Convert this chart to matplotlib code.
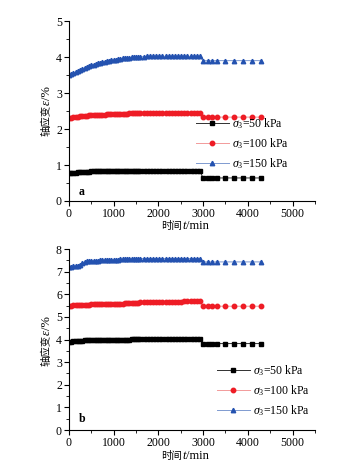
import matplotlib.pyplot as plt
from matplotlib.ticker import MultipleLocator

plt.rcParams['font.family'] = ['Liberation Serif', 'Noto Sans CJK SC']
plt.rcParams['mathtext.fontset'] = 'custom'
plt.rcParams['mathtext.rm'] = 'Liberation Serif'
plt.rcParams['mathtext.it'] = 'Liberation Serif:italic'

# time stamps (min), shared by all curves
t_min = [0, 50, 100, 150, 200, 250, 300, 350, 400, 450,
         500, 550, 600, 650, 700, 750, 800, 850, 900, 950,
         1000, 1050, 1100, 1150, 1200, 1250, 1300, 1350, 1400, 1450,
         1500, 1550,
         1600, 1670, 1740, 1810, 1880, 1950, 2020, 2090, 2160, 2230,
         2300, 2370, 2440, 2510, 2580, 2650, 2720, 2790, 2860, 2920,
         3000, 3100, 3200, 3300, 3500, 3700, 3900, 4100, 4300]

# panel a: axial strain (%)
a_50 = [0.77, 0.78, 0.79, 0.79, 0.80, 0.80, 0.81, 0.81, 0.81, 0.81,
        0.82, 0.82, 0.82, 0.82, 0.82, 0.82, 0.83, 0.83, 0.83, 0.83,
        0.83, 0.83, 0.83, 0.83, 0.83, 0.83, 0.83, 0.84, 0.84, 0.84,
        0.84, 0.84,
        0.84, 0.84, 0.84, 0.84, 0.84, 0.84, 0.84, 0.84, 0.84, 0.84,
        0.84, 0.84, 0.84, 0.84, 0.84, 0.84, 0.84, 0.84, 0.84, 0.84,
        0.64, 0.64, 0.64, 0.64, 0.64, 0.64, 0.64, 0.64, 0.64]
a_100 = [2.30, 2.31, 2.32, 2.33, 2.34, 2.35, 2.36, 2.37, 2.37, 2.38,
         2.38, 2.39, 2.39, 2.39, 2.40, 2.40, 2.40, 2.41, 2.41, 2.41,
         2.42, 2.42, 2.42, 2.43, 2.43, 2.43, 2.43, 2.44, 2.44, 2.44,
         2.44, 2.44,
         2.45, 2.45, 2.45, 2.45, 2.45, 2.45, 2.45, 2.45, 2.45, 2.45,
         2.45, 2.45, 2.45, 2.45, 2.45, 2.45, 2.45, 2.45, 2.45, 2.45,
         2.33, 2.33, 2.33, 2.33, 2.33, 2.33, 2.33, 2.33, 2.33]
a_150 = [3.50, 3.53, 3.55, 3.58, 3.61, 3.64, 3.67, 3.70, 3.72, 3.75,
         3.77, 3.79, 3.80, 3.82, 3.84, 3.86, 3.87, 3.89, 3.90, 3.91,
         3.92, 3.93, 3.94, 3.95, 3.96, 3.97, 3.98, 3.98, 3.99, 3.99,
         4.00, 4.00,
         4.01, 4.01, 4.02, 4.02, 4.02, 4.02, 4.02, 4.02, 4.02, 4.02,
         4.02, 4.02, 4.02, 4.02, 4.02, 4.02, 4.02, 4.02, 4.02, 4.02,
         3.90, 3.90, 3.90, 3.90, 3.90, 3.90, 3.90, 3.90, 3.90]

# panel b: axial strain (%)
b_50 = [3.90, 3.91, 3.92, 3.93, 3.94, 3.95, 3.95, 3.96, 3.96, 3.96,
        3.97, 3.97, 3.97, 3.97, 3.98, 3.98, 3.98, 3.98, 3.98, 3.99,
        3.99, 3.99, 3.99, 3.99, 4.00, 4.00, 4.00, 4.00, 4.01, 4.01,
        4.01, 4.01,
        4.02, 4.02, 4.02, 4.02, 4.02, 4.02, 4.02, 4.02, 4.02, 4.02,
        4.02, 4.02, 4.02, 4.02, 4.02, 4.02, 4.02, 4.02, 4.02, 4.02,
        3.82, 3.82, 3.82, 3.82, 3.82, 3.82, 3.82, 3.82, 3.82]
b_100 = [5.50, 5.50, 5.51, 5.51, 5.52, 5.52, 5.53, 5.53, 5.54, 5.54,
         5.55, 5.55, 5.55, 5.56, 5.56, 5.56, 5.57, 5.57, 5.57, 5.58,
         5.58, 5.58, 5.59, 5.59, 5.59, 5.60, 5.60, 5.60, 5.61, 5.61,
         5.62, 5.62,
         5.64, 5.64, 5.65, 5.65, 5.65, 5.66, 5.66, 5.66, 5.66, 5.67,
         5.67, 5.67, 5.67, 5.67, 5.68, 5.68, 5.68, 5.68, 5.68, 5.68,
         5.47, 5.47, 5.47, 5.47, 5.47, 5.47, 5.47, 5.47, 5.47]
b_150 = [7.20, 7.21, 7.23, 7.25, 7.27, 7.30, 7.36, 7.42, 7.45, 7.46,
         7.47, 7.48, 7.49, 7.49, 7.50, 7.50, 7.51, 7.51, 7.52, 7.52,
         7.52, 7.53, 7.53, 7.54, 7.54, 7.55, 7.55, 7.55, 7.56, 7.56,
         7.57, 7.57,
         7.58, 7.58, 7.58, 7.58, 7.58, 7.58, 7.58, 7.58, 7.58, 7.58,
         7.58, 7.58, 7.58, 7.58, 7.58, 7.58, 7.58, 7.58, 7.58, 7.58,
         7.43, 7.43, 7.43, 7.43, 7.43, 7.43, 7.43, 7.43, 7.43]

labels = [r'$\sigma_3$=50 kPa', r'$\sigma_3$=100 kPa', r'$\sigma_3$=150 kPa']
styles = [
    dict(marker='s', color='#303030', mfc='#000000', mec='#000000'),
    dict(marker='o', color='#f29a9a', mfc='#ee1c25', mec='#ee1c25'),
    dict(marker='^', color='#7f9ad0', mfc='#2452b0', mec='#2452b0'),
]

# axis titles are built from pieces so the Chinese part and the
# italic symbol each get their own font
CJK = dict(family='Noto Sans CJK SC', size=7.5)
LAT = dict(family='Liberation Serif', size=9)
LAT_IT = dict(family='Liberation Serif', size=9, style='italic')
x_title = [('时间', CJK), ('t', LAT_IT), ('/min', LAT)]
y_title = [('轴应变', CJK), ('ε', LAT_IT), ('/%', LAT)]

W, H = 348, 467
fig = plt.figure(figsize=(W / 100, H / 100), dpi=100)
ax_a = fig.add_axes([0.198, 0.5696, 0.707, 0.3854])
ax_b = fig.add_axes([0.198, 0.0792, 0.707, 0.3876])
renderer = fig.canvas.get_renderer()


def pieced_title(pieces, cx, cy, rotation):
    # cx, cy in pixels from top-left; text runs left-to-right or bottom-to-top
    arts = [fig.text(0, 0, s, rotation=rotation, rotation_mode='anchor',
                     ha='left', va='baseline', **p) for s, p in pieces]
    sizes = []
    for t in arts:
        bb = t.get_window_extent(renderer)
        sizes.append(bb.width if rotation == 0 else bb.height)
    pos = -sum(sizes) / 2
    for t, s in zip(arts, sizes):
        if rotation == 0:
            t.set_position(((cx + pos) / W, (H - cy) / H))
        else:
            t.set_position((cx / W, (H - cy + pos) / H))
        pos += s


def draw_panel(ax, series, ymax, tag, tag_y, leg_anchor):
    for y, lab, st in zip(series, labels, styles):
        ax.plot(t_min, y, lw=0.7, ms=3.2, label=lab, **st)
    ax.set_xlim(0, 5500)
    ax.set_ylim(0, ymax)
    ax.xaxis.set_major_locator(MultipleLocator(1000))
    ax.xaxis.set_minor_locator(MultipleLocator(500))
    ax.yaxis.set_major_locator(MultipleLocator(1))
    ax.yaxis.set_minor_locator(MultipleLocator(0.5))
    ax.spines['top'].set_visible(False)
    ax.spines['right'].set_visible(False)
    for s in ('left', 'bottom'):
        ax.spines[s].set_linewidth(0.8)
    ax.tick_params(which='major', direction='out', length=3.5, width=0.8, labelsize=8.5, pad=1.5)
    ax.tick_params(which='minor', direction='out', length=2, width=0.6)
    ax.text(220, tag_y, tag, fontsize=8.5, fontweight='bold')
    ax.legend(loc='upper left', bbox_to_anchor=leg_anchor, frameon=False,
              fontsize=8.5, handlelength=2.8, handletextpad=0.3,
              labelspacing=0.45, borderpad=0, borderaxespad=0)


draw_panel(ax_a, [a_50, a_100, a_150], 5, 'a', 0.18, (0.515, 0.47))
draw_panel(ax_b, [b_50, b_100, b_150], 8, 'b', 0.35, (0.6, 0.37))

pieced_title(x_title, 185, 229, 0)
pieced_title(x_title, 185, 459, 0)
pieced_title(y_title, 50, 111, 90)
pieced_title(y_title, 50, 341, 90)

fig.savefig('out.png', dpi=100)
